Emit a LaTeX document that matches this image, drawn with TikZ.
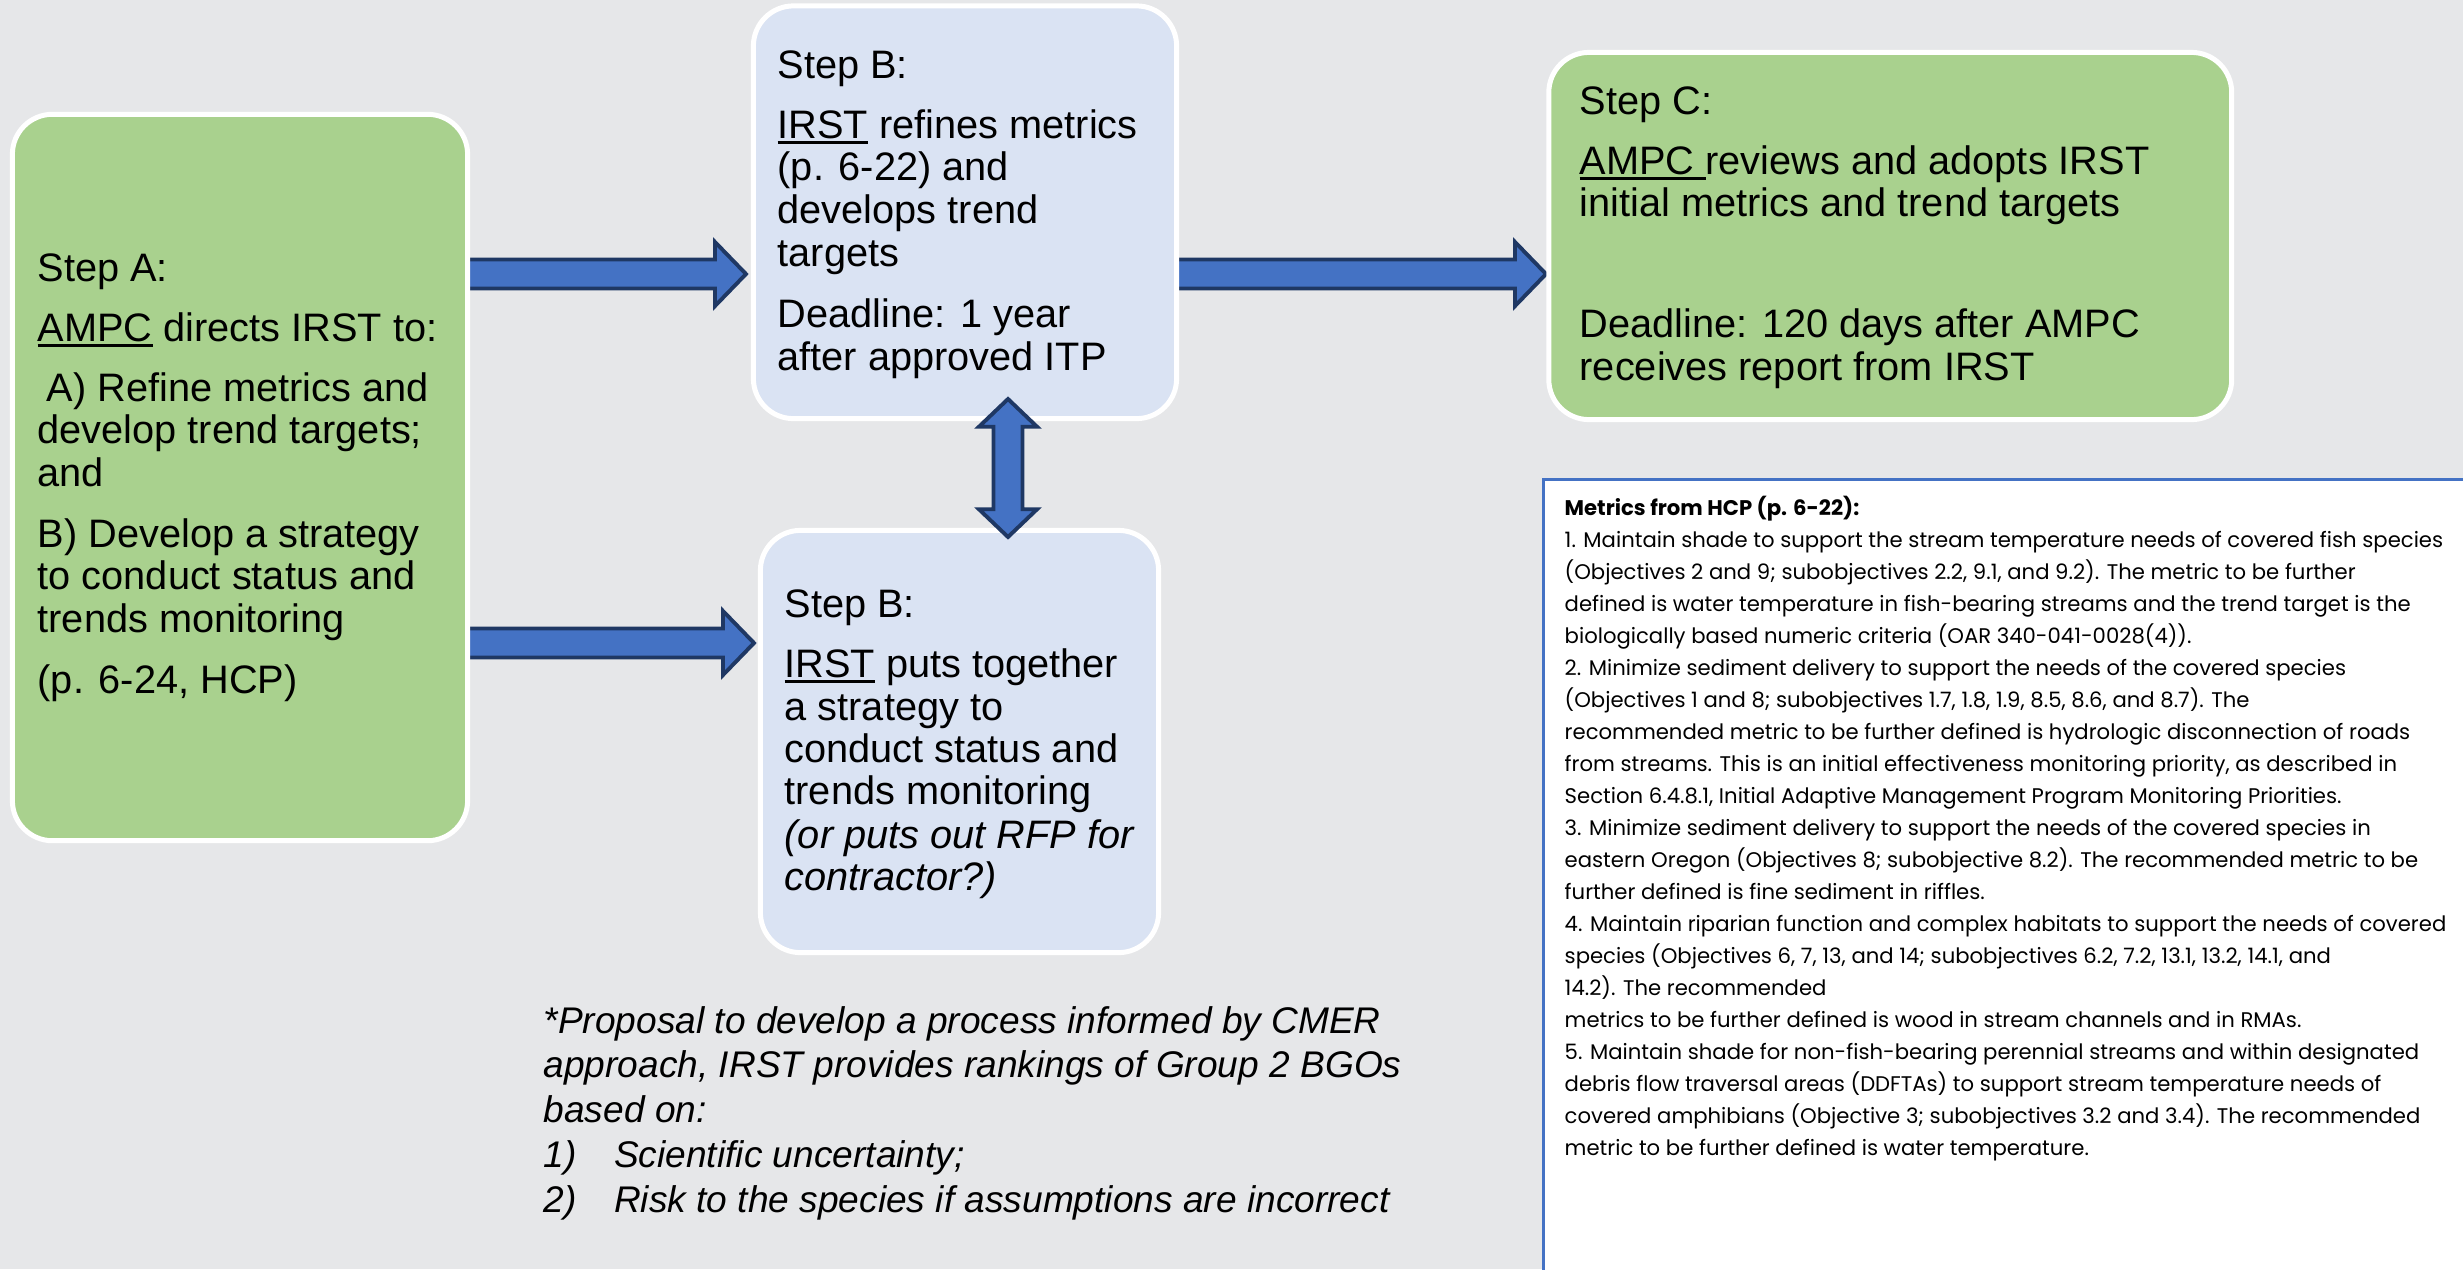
\documentclass[tikz,border=0pt]{standalone}
\usepackage{fontspec}
\setmainfont{Liberation Sans}
\newfontfamily\mfont{Poppins}
\usetikzlibrary{calc}
\definecolor{bgc}{HTML}{E6E7E9}
\definecolor{boxgreen}{HTML}{A9D18E}
\definecolor{boxblue}{HTML}{DAE3F3}
\definecolor{arrfill}{HTML}{4472C4}
\definecolor{arrline}{HTML}{1F3864}
\newcommand\ulx[1]{\setbox0\hbox{#1}\rlap{\rule[-1.7pt]{\wd0}{0.75pt}}\box0\relax}
\newcommand\harrow[2]{%
  \draw[barrow] ($(#1)+(0,-14.5)$) -- ($(#2)+(-31,-14.5)$) -- ($(#2)+(-31,-32)$) -- (#2)
    -- ($(#2)+(-31,32)$) -- ($(#2)+(-31,14.5)$) -- ($(#1)+(0,14.5)$) -- cycle;}
\newlength\mlen
\begin{document}
\settowidth{\mlen}{\mfont\fontsize{10pt}{12pt}\selectfont 1. Maintain shade to support the stream temperature needs of covered fish species}%
\pgfmathsetmacro{\msz}{10*249.8/\mlen}%
\begin{tikzpicture}[x=0.01cm,y=-0.01cm,
  stepbox/.style={draw=white, line width=1.42pt, rounded corners=11.4pt, inner sep=0pt},
  greenbox/.style={stepbox, fill=boxgreen},
  bluebox/.style={stepbox, fill=boxblue},
  boxtext/.style={anchor=base west, inner sep=0pt, font=\fontsize{11.3pt}{13pt}\selectfont},
  proptext/.style={anchor=base west, inner sep=0pt, font=\fontsize{10.55pt}{12.5pt}\selectfont\itshape},
  mtext/.style={anchor=base west, inner sep=0pt, font=\mfont\fontsize{\msz pt}{\msz pt}\selectfont},
  barrow/.style={fill=arrfill, draw=arrline, line width=1.1pt, line join=miter}]
\fill[bgc] (0,0) rectangle (2463,1269);
\useasboundingbox (0,0) rectangle (2463,1269);

% horizontal block arrows (behind the boxes)
\coordinate (t1) at (450,274);
\coordinate (h1) at (746,274);
\coordinate (t2) at (450,643);
\coordinate (h2) at (754,643);
\coordinate (t3) at (1160,274);
\coordinate (h3) at (1546,274);
\harrow{t1}{h1}
\harrow{t2}{h2}
\harrow{t3}{h3}

% boxes
\node[greenbox, minimum width=4.55cm, minimum height=7.26cm] (A) at (240,477.5) {};
\node[bluebox, minimum width=4.23cm, minimum height=4.125cm] (B1) at (965,212.25) {};
\node[greenbox, minimum width=6.825cm, minimum height=3.67cm] (C) at (1890.25,236) {};
\node[bluebox, minimum width=3.98cm, minimum height=4.22cm] (B2) at (959.5,741.5) {};

% double vertical arrow
\coordinate (d1) at (1008,399);
\coordinate (d2) at (1008,537);
\draw[barrow] (d1) -- ($(d1)+(29,27.7)$) -- ($(d1)+(14.5,27.7)$) -- ($(d2)+(14.5,-27.7)$)
  -- ($(d2)+(29,-27.7)$) -- (d2) -- ($(d2)+(-29,-27.7)$) -- ($(d2)+(-14.5,-27.7)$)
  -- ($(d1)+(-14.5,27.7)$) -- ($(d1)+(-29,27.7)$) -- cycle;

% Step A text
\node[boxtext] (a1) at (37,281) {Step A:};
\node[boxtext] (a2) at (37,341) {\ulx{AMPC} directs IRST to:};
\node[boxtext] (a3) at (46,401) {A) Refine metrics and};
\node[boxtext] (a4) at (37,443.5) {develop trend targets;};
\node[boxtext] (a5) at (37,486) {and};
\node[boxtext] (a6) at (37,547) {B) Develop a strategy};
\node[boxtext] (a7) at (37,589.5) {to conduct status and};
\node[boxtext] (a8) at (37,632) {trends monitoring};
\node[boxtext] (a9) at (37,693) {(p. 6-24, HCP)};

% Step B (top)
\node[boxtext] (b1) at (777,78) {Step B:};
\node[boxtext] (b2) at (777,138) {\ulx{IRST} refines metrics};
\node[boxtext] (b3) at (777,180.5) {(p. 6-22) and};
\node[boxtext] (b4) at (777,223) {develops trend};
\node[boxtext] (b5) at (777,266) {targets};
\node[boxtext] (b6) at (777,327) {Deadline: 1 year};
\node[boxtext] (b7) at (777,370) {after approved ITP};

% Step C
\node[boxtext] (c1) at (1579,114) {Step C:};
\node[boxtext] (c2) at (1579,174) {\ulx{AMPC\ }reviews and adopts IRST};
\node[boxtext] (c3) at (1579,216) {initial metrics and trend targets};
\node[boxtext] (c4) at (1579,337) {Deadline: 120 days after AMPC};
\node[boxtext] (c5) at (1579,380) {receives report from IRST};

% Step B (bottom)
\node[boxtext] (e1) at (784,617) {Step B:};
\node[boxtext] (e2) at (784,677) {\ulx{IRST} puts together};
\node[boxtext] (e3) at (784,720) {a strategy to};
\node[boxtext] (e4) at (784,762) {conduct status and};
\node[boxtext] (e5) at (784,804) {trends monitoring};
\node[boxtext] (e6) at (784,848) {\itshape (or puts out RFP for};
\node[boxtext] (e7) at (784,890) {\itshape contractor?)};

% proposal
\node[proptext] (p1) at (543,1033) {*Proposal to develop a process informed by CMER};
\node[proptext] (p2) at (543,1077) {approach, IRST provides rankings of Group 2 BGOs};
\node[proptext] (p3) at (543,1122) {based on:};
\node[proptext] (p4n) at (543,1167) {1)};
\node[proptext] (p4) at (613.5,1167) {Scientific uncertainty;};
\node[proptext] (p5n) at (543,1212) {2)};
\node[proptext] (p5) at (613.5,1212) {Risk to the species if assumptions are incorrect};

% metrics box
\begin{scope}
\clip (0,0) rectangle (2463,1269);
\node[draw=arrfill, fill=white, line width=0.85pt, minimum width=9.36cm, minimum height=8.2cm, inner sep=0pt] (M) at (2012,890) {};
\end{scope}
\node[mtext, font=\mfont\bfseries\fontsize{\msz pt}{\msz pt}\selectfont] (m0) at (1564,515) {Metrics from HCP (p. 6-22):};
\foreach \t [count=\i] in {
 {1. Maintain shade to support the stream temperature needs of covered fish species},
 {(Objectives 2 and 9; subobjectives 2.2, 9.1, and 9.2). The metric to be further},
 {defined is water temperature in fish-bearing streams and the trend target is the},
 {biologically based numeric criteria (OAR 340-041-0028(4)).},
 {2. Minimize sediment delivery to support the needs of the covered species},
 {(Objectives 1 and 8; subobjectives 1.7, 1.8, 1.9, 8.5, 8.6, and 8.7). The},
 {recommended metric to be further defined is hydrologic disconnection of roads},
 {from streams. This is an initial effectiveness monitoring priority, as described in},
 {Section 6.4.8.1, Initial Adaptive Management Program Monitoring Priorities.},
 {3. Minimize sediment delivery to support the needs of the covered species in},
 {eastern Oregon (Objectives 8; subobjective 8.2). The recommended metric to be},
 {further defined is fine sediment in riffles.},
 {4. Maintain riparian function and complex habitats to support the needs of covered},
 {species (Objectives 6, 7, 13, and 14; subobjectives 6.2, 7.2, 13.1, 13.2, 14.1, and},
 {14.2). The recommended},
 {metrics to be further defined is wood in stream channels and in RMAs.},
 {5. Maintain shade for non-fish-bearing perennial streams and within designated},
 {debris flow traversal areas (DDFTAs) to support stream temperature needs of},
 {covered amphibians (Objective 3; subobjectives 3.2 and 3.4). The recommended},
 {metric to be further defined is water temperature.}}
 {\node[mtext] (m\i) at (1564,515+32*\i) {\t};}
\end{tikzpicture}
\end{document}
